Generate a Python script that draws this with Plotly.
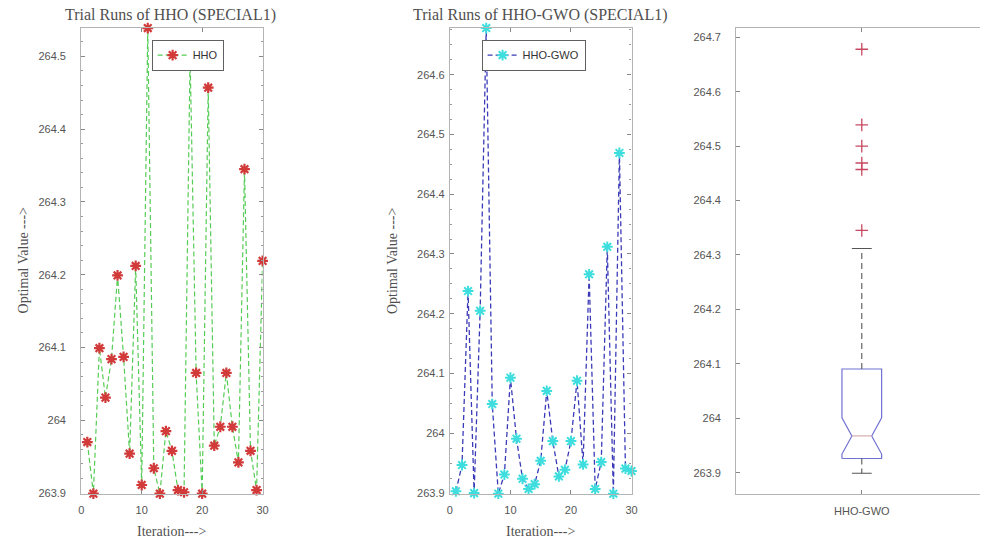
import numpy as np
import plotly.graph_objects as go

# Trial index for each of the 30 independent runs
iterations = list(range(1, 31))

# Best objective value found in each run (SPECIAL1)
hho_values = [
    263.970, 263.899, 264.099, 264.031, 264.084, 264.199, 264.087, 263.954,
    264.212, 263.911, 264.539, 263.934, 263.899, 263.985, 263.958, 263.904,
    263.901, 264.500, 264.065, 263.899, 264.457, 263.965, 263.991, 264.065,
    263.991, 263.942, 264.345, 263.958, 263.904, 264.219,
]
hho_gwo_values = [
    263.903, 263.947, 264.238, 263.900, 264.205, 264.678, 264.049, 263.899,
    263.931, 264.093, 263.991, 263.924, 263.907, 263.915, 263.954, 264.071,
    263.987, 263.928, 263.939, 263.987, 264.088, 263.948, 264.266, 263.907,
    263.952, 264.312, 263.899, 264.469, 263.941, 263.937,
]

x_ticks = [0, 10, 20, 30]
x_ticktext = ["0", "10", "20", "30"]
box_label = "HHO-GWO"

# ---------- box-plot statistics (MATLAB-style percentiles) ----------
def prctile(data, p):
    s = np.sort(np.asarray(data, dtype=float))
    n = len(s)
    pos = (np.arange(1, n + 1) - 0.5) / n * 100.0
    return float(np.interp(p, pos, s))

pooled = np.array(hho_values + hho_gwo_values)
q1 = prctile(pooled, 25)
med = prctile(pooled, 50)
q3 = prctile(pooled, 75)
iqr = q3 - q1
hi_fence = q3 + 1.5 * iqr
lo_fence = q1 - 1.5 * iqr
w_hi = float(pooled[pooled <= hi_fence].max())
w_lo = float(pooled[pooled >= lo_fence].min())
outliers = pooled[(pooled > hi_fence) | (pooled < lo_fence)]
notch = 1.57 * iqr / np.sqrt(len(pooled))
n_lo, n_hi = med - notch, med + notch
span = pooled.max() - pooled.min()
box_range = [pooled.min() - 0.05 * span, pooled.max() + 0.05 * span]

# ---------- styling ----------
W, H = 986, 543
AX = "#b4b4b4"
TXT = "#555555"
SANS = "Liberation Sans, Arial, sans-serif"
SERIF = "Liberation Serif, Times New Roman, serif"

def px_x(p):
    return p / W

def px_y(p):
    return 1 - p / H

plot_top, plot_bot = 28.3, 498.3
dom_y = [px_y(plot_bot), px_y(plot_top)]
dom_x1 = [px_x(79), px_x(262)]
dom_x2 = [px_x(451), px_x(634.3)]
dom_x3 = [px_x(740), 1.0]

fig = go.Figure()

fig.add_trace(go.Scatter(
    x=iterations, y=hho_values, name="HHO", mode="lines+markers",
    line=dict(color="#55cc55", width=1.2, dash="5px,3px"),
    marker=dict(symbol="asterisk-open", size=9, color="#d23a3a",
                line=dict(color="#d23a3a", width=2.2)),
    cliponaxis=False, xaxis="x", yaxis="y", legend="legend",
))

fig.add_trace(go.Scatter(
    x=iterations, y=hho_gwo_values, name="HHO-GWO", mode="lines+markers",
    line=dict(color="#3a3ab8", width=1.3, dash="5px,3px"),
    marker=dict(symbol="asterisk-open", size=9, color="#3fdede",
                line=dict(color="#3fdede", width=2.0)),
    cliponaxis=False, xaxis="x2", yaxis="y2", legend="legend2",
))

# Notched box drawn on the third axes
bc, bw = 1.0, 0.079
box_x = [bc - bw, bc - bw, bc - bw / 2, bc - bw, bc - bw,
         bc + bw, bc + bw, bc + bw / 2, bc + bw, bc + bw, bc - bw]
box_y = [q1, n_lo, med, n_hi, q3, q3, n_hi, med, n_lo, q1, q1]
fig.add_trace(go.Scatter(
    x=box_x, y=box_y, mode="lines", showlegend=False, hoverinfo="skip",
    line=dict(color="#7272d2", width=1.2), xaxis="x3", yaxis="y3",
))
fig.add_trace(go.Scatter(
    x=[bc - bw / 2, bc + bw / 2], y=[med, med], mode="lines", showlegend=False,
    line=dict(color="#d8b0b0", width=1.2), xaxis="x3", yaxis="y3",
))
fig.add_trace(go.Scatter(
    x=[bc, bc, None, bc, bc], y=[q3, w_hi, None, q1, w_lo], mode="lines",
    showlegend=False, line=dict(color="#555555", width=1.1, dash="6px,4px"),
    xaxis="x3", yaxis="y3",
))
fig.add_trace(go.Scatter(
    x=[bc - bw / 2, bc + bw / 2, None, bc - bw / 2, bc + bw / 2],
    y=[w_hi, w_hi, None, w_lo, w_lo], mode="lines", showlegend=False,
    line=dict(color="#555555", width=1.1), xaxis="x3", yaxis="y3",
))
fig.add_trace(go.Scatter(
    x=[bc] * len(outliers), y=outliers, mode="markers", showlegend=False,
    marker=dict(symbol="cross-thin-open", size=9, color="#c84860",
                line=dict(color="#c84860", width=1.3)),
    xaxis="x3", yaxis="y3", cliponaxis=False,
))

tickfont = dict(family=SANS, size=11, color=TXT)
common_x = dict(showline=True, linecolor=AX, linewidth=1.2, mirror="allticks",
                ticks="inside", ticklen=4, tickcolor="#888888", showgrid=False,
                zeroline=False, tickfont=tickfont, ticklabelstandoff=6)
common_y = dict(showline=True, linecolor=AX, linewidth=1.2, ticks="inside",
                ticklen=4, tickcolor="#888888", showgrid=False, zeroline=False,
                tickfont=tickfont, dtick=0.1, tick0=263.9, domain=dom_y)

fig.update_layout(
    width=W, height=H, margin=dict(l=0, r=0, t=0, b=0),
    paper_bgcolor="white", plot_bgcolor="white",
    xaxis=dict(domain=dom_x1, range=[0, 30], tickvals=x_ticks,
               ticktext=x_ticktext, anchor="y", **common_x),
    yaxis=dict(range=[min(hho_values), max(hho_values)], anchor="x",
               mirror="allticks", ticklabelstandoff=12,
               minor=dict(dtick=0.02, ticks="inside", ticklen=2,
                          tickcolor="#999999"),
               **common_y),
    xaxis2=dict(domain=dom_x2, range=[0, 30], tickvals=x_ticks,
                ticktext=x_ticktext, anchor="y2", **common_x),
    yaxis2=dict(range=[min(hho_gwo_values), max(hho_gwo_values)], anchor="x2",
                mirror="allticks", ticklabelstandoff=2,
                minor=dict(dtick=0.025, ticks="inside", ticklen=2,
                           tickcolor="#999999"),
                **common_y),
    xaxis3=dict(domain=dom_x3, range=[0.5, 0.5 + 246 / 253.4], tickvals=[bc],
                ticktext=[box_label], anchor="y3", **common_x),
    yaxis3=dict(range=box_range, anchor="x3", mirror=False,
                ticklabelstandoff=12,
                **{**common_y, "domain": [px_y(499), px_y(28.3)]}),
    legend=dict(x=px_x(150), y=px_y(40), xanchor="left", yanchor="top",
                bgcolor="white", bordercolor="#606060", borderwidth=1,
                font=dict(family=SANS, size=11, color="#333333"),
                itemwidth=30, tracegroupgap=0),
    legend2=dict(x=px_x(483), y=px_y(40), xanchor="left", yanchor="top",
                 bgcolor="white", bordercolor="#606060", borderwidth=1,
                 font=dict(family=SANS, size=11, color="#333333"),
                 itemwidth=30, tracegroupgap=0),
)

title_font = dict(family=SERIF, size=16, color="#505050")
label_font = dict(family=SERIF, size=14, color="#505050")
annos = [
    dict(text="Trial Runs of HHO (SPECIAL1)", x=px_x(169), y=px_y(15),
         font=title_font),
    dict(text="Trial Runs of HHO-GWO (SPECIAL1)", x=px_x(542), y=px_y(15),
         font=title_font),
    dict(text="Optimal Value --->", x=px_x(21), y=px_y(263), textangle=-90,
         font=label_font),
    dict(text="Optimal Value --->", x=px_x(393), y=px_y(263), textangle=-90,
         font=label_font),
    dict(text="Iteration--->", x=px_x(170), y=px_y(536), font=label_font),
    dict(text="Iteration--->", x=px_x(542), y=px_y(536), font=label_font),
]
for a in annos:
    fig.add_annotation(xref="paper", yref="paper", showarrow=False,
                       xanchor="center", yanchor="middle", **a)

fig.write_html("out.html")
